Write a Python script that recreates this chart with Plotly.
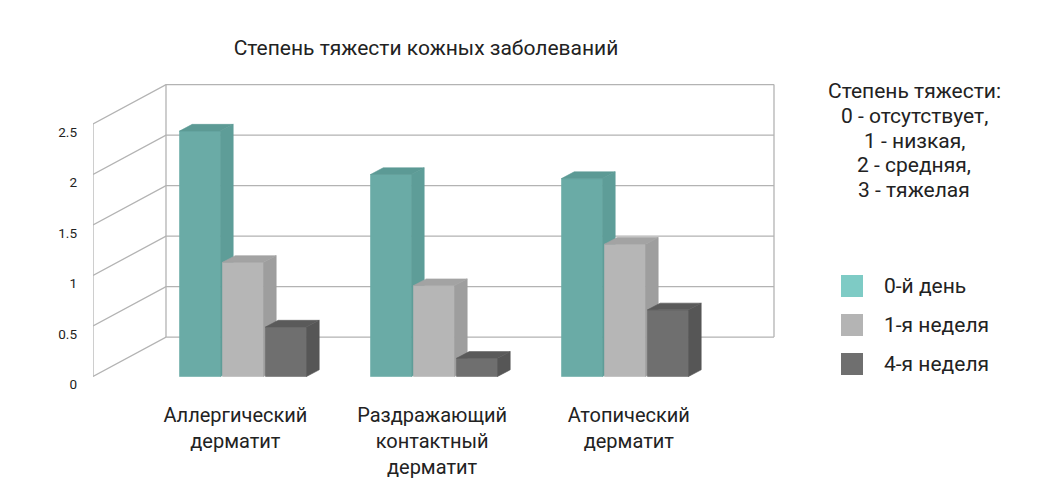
import plotly.graph_objects as go

# data
categories = ["Аллергический<br>дерматит", "Раздражающий<br>контактный<br>дерматит", "Атопический<br>дерматит"]
series_names = ["0-й день", "1-я неделя", "4-я неделя"]
day0 = [2.43, 2.0, 1.96]
week1 = [1.13, 0.9, 1.31]
week4 = [0.49, 0.18, 0.66]
y_ticks = [0, 0.5, 1, 1.5, 2, 2.5]
y_ticktext = ["0", "0.5", "1", "1.5", "2", "2.5"]
title = "Степень тяжести кожных заболеваний"
note_lines = ["Степень тяжести:", "0 - отсутствует,", "1 - низкая,", "2 - средняя,", "3 - тяжелая"]

series = [day0, week1, week4]
# front, side, top colours per series, plus legend swatch
face_colors = [
    ("#6aaba6", "#5e9d98", "#5c9a95"),
    ("#b6b6b6", "#9e9e9e", "#a3a3a3"),
    ("#6f6f6f", "#565656", "#5a5a5a"),
]
legend_colors = ["#7ecbc5", "#b4b4b4", "#6f6f6f"]

FONT = "Roboto"
GRID = "#b3b3b3"
TXT = "#222"

# page has an 8px body margin, so the figure is laid out 8px up/left
OFF = 8
W, H = 1060 - 2 * OFF, 490 - 2 * OFF

# plot area in (window) pixels
L, R, T, B = 93, 793, 70, 392
PX_X = 191.0   # px per category
PX_Y = 101.0   # px per value unit
X0_PX, Y0_PX = 243.0, 376.5

x_range = [(L - X0_PX) / PX_X, (R - X0_PX) / PX_X]
y_range = [(Y0_PX - B) / PX_Y, (Y0_PX - T) / PX_Y]

# 3d box geometry (in data units)
wall_dx = 73 / PX_X
wall_dy = 0.39
x_front = x_range[0]
x_back = x_front + wall_dx
x_right = (774 - X0_PX) / PX_X

slot = 43 / PX_X
bw = 41 / PX_X
ddx = 12.7 / PX_X
ddy = 6.7 / PX_Y

fig = go.Figure()

# walls and gridlines
wx, wy = [], []
top = y_ticks[-1]
wx += [x_front, x_front, None, x_back, x_back, None, x_right, x_right, None]
wy += [0, top, None, wall_dy, top + wall_dy, None, wall_dy, top + wall_dy, None]
for v in y_ticks:
    wx += [x_front, x_back, x_right, None]
    wy += [v, v + wall_dy, v + wall_dy, None]
fig.add_trace(go.Scatter(x=wx, y=wy, mode="lines", line=dict(color=GRID, width=1.3),
                         hoverinfo="skip", showlegend=False))

# pseudo-3d bars
for j, vals in enumerate(series):
    front_c, side_c, top_c = face_colors[j]
    fx, fy, sx, sy, tx, ty = [], [], [], [], [], []
    for i, v in enumerate(vals):
        x0 = i + (j - 1) * slot - bw / 2
        x1 = x0 + bw
        fx += [x0, x1, x1, x0, x0, None]
        fy += [0, 0, v, v, 0, None]
        sx += [x1, x1 + ddx, x1 + ddx, x1, x1, None]
        sy += [0, ddy, v + ddy, v, 0, None]
        tx += [x0, x1, x1 + ddx, x0 + ddx, x0, None]
        ty += [v, v, v + ddy, v + ddy, v, None]
    for xs, ys, c in [(fx, fy, front_c), (sx, sy, side_c), (tx, ty, top_c)]:
        fig.add_trace(go.Scatter(x=xs, y=ys, mode="lines", fill="toself", fillcolor=c,
                                 line=dict(color=c, width=0.6), name=series_names[j],
                                 hoverinfo="skip", showlegend=False))


def px_x(p):
    return (p - L) / (R - L)


def px_y(p):
    return (B - p) / (B - T)


# legend drawn by hand (bigger swatches)
shapes = []
annotations = []
for k, name in enumerate(series_names):
    top_px = 275 + 39 * k
    shapes.append(dict(type="rect", xref="paper", yref="paper",
                       x0=px_x(841), x1=px_x(863), y0=px_y(top_px + 22), y1=px_y(top_px),
                       fillcolor=legend_colors[k], line=dict(width=0)))
    annotations.append(dict(text=name, xref="paper", yref="paper", x=px_x(882), y=px_y(top_px + 11),
                            xanchor="left", yanchor="middle", showarrow=False,
                            font=dict(family=FONT, size=21, color=TXT)))

# severity scale note, one line at a time for tighter spacing
for k, line in enumerate(note_lines):
    annotations.append(dict(text=line, xref="paper", yref="paper", x=px_x(914), y=px_y(91 + 24.8 * k),
                            xanchor="center", yanchor="middle", showarrow=False,
                            font=dict(family=FONT, size=21, color=TXT)))

fig.update_layout(
    width=W, height=H,
    margin=dict(l=L - OFF, r=W - (R - OFF), t=T - OFF, b=H - (B - OFF)),
    paper_bgcolor="white", plot_bgcolor="white",
    title=dict(text=title, x=(426 - OFF) / W, y=1 - (48 - OFF) / H, xanchor="center", yanchor="middle",
               xref="container", yref="container", font=dict(family=FONT, size=21, color=TXT)),
    shapes=shapes, annotations=annotations,
    showlegend=False,
)
fig.update_xaxes(range=x_range, showgrid=False, zeroline=False, showline=False, ticks="",
                 automargin=False,
                 tickvals=[i * 1.03 - 0.04 for i in range(len(categories))], ticktext=categories,
                 ticklabelstandoff=9,
                 tickfont=dict(family=FONT, size=20, color=TXT), fixedrange=True)
fig.update_yaxes(range=y_range, showgrid=False, zeroline=False, showline=False, ticks="",
                 automargin=False,
                 tickvals=y_ticks, ticktext=y_ticktext, ticklabelstandoff=15, ticklabelshift=8,
                 tickfont=dict(family=FONT, size=13.5, color=TXT), fixedrange=True)

fig.write_html("out.html")
